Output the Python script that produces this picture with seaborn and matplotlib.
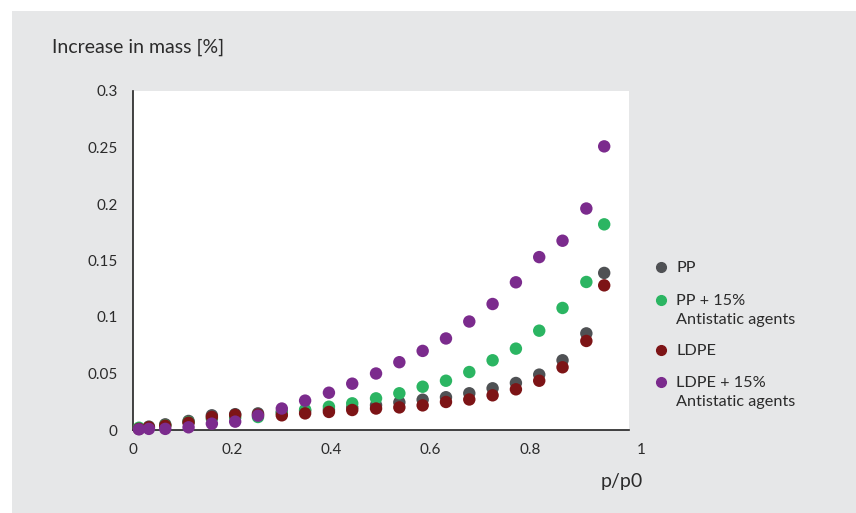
import matplotlib
matplotlib.use("Agg")
import matplotlib.pyplot as plt
import matplotlib.patches as mpatches
import matplotlib.transforms as mtransforms
from matplotlib.lines import Line2D
import numpy as np
import pandas as pd
import seaborn as sns

# Relative pressure p/p0 at which the samples were weighed
p_rel = [0.012, 0.032, 0.065, 0.112, 0.159, 0.206, 0.252, 0.300, 0.347, 0.395, 0.442,
         0.490, 0.537, 0.584, 0.631, 0.678, 0.725, 0.772, 0.819, 0.866, 0.914, 0.950]

# Increase in mass for each material
pp = [0.001, 0.003, 0.005, 0.008, 0.013, 0.014, 0.0147, 0.016, 0.017, 0.018, 0.020,
      0.022, 0.0245, 0.0268, 0.029, 0.0325, 0.0369, 0.0416, 0.049, 0.0617, 0.0855, 0.139]
pp_anti = [0.002, 0.002, 0.004, 0.007, 0.010, 0.011, 0.0115, 0.015, 0.018, 0.0206, 0.0236,
           0.028, 0.0325, 0.0383, 0.0436, 0.0513, 0.0617, 0.072, 0.0879, 0.108, 0.131, 0.182]
ldpe = [0.001, 0.0024, 0.0038, 0.0065, 0.0115, 0.0133, 0.0135, 0.013, 0.0147, 0.016, 0.0177,
        0.019, 0.020, 0.0218, 0.0248, 0.027, 0.0307, 0.036, 0.0436, 0.0555, 0.0788, 0.128]
ldpe_anti = [0.0006, 0.001, 0.001, 0.0024, 0.0056, 0.0074, 0.0127, 0.019, 0.026, 0.033, 0.041,
             0.050, 0.060, 0.070, 0.081, 0.096, 0.1115, 0.1307, 0.153, 0.1675, 0.196, 0.251]

series_names = ["PP", "PP + 15%\nAntistatic agents", "LDPE", "LDPE + 15%\nAntistatic agents"]
series_values = [pp, pp_anti, ldpe, ldpe_anti]
palette = ["#4f5154", "#2bb562", "#7d1416", "#7b2b8d"]

x_ticks = [0, 0.2, 0.4, 0.6, 0.8, 1]
x_tick_labels = ["0", "0.2", "0.4", "0.6", "0.8", "1"]
y_ticks = [0, 0.05, 0.1, 0.15, 0.2, 0.25, 0.3]
y_tick_labels = ["0", "0.05", "0.1", "0.15", "0.2", "0.25", "0.3"]

df = pd.concat(
    [pd.DataFrame({"p": p_rel, "mass": vals, "material": name})
     for name, vals in zip(series_names, series_values)],
    ignore_index=True,
)

sns.set_theme(style="white")
plt.rcParams["font.family"] = ["Lato", "DejaVu Sans"]
text_color = "#2b2b2b"
panel_color = "#e6e7e8"

W, H = 856, 513
fig = plt.figure(figsize=(W / 100, H / 100), dpi=100)
fig.patch.set_facecolor("white")
# grey panel behind the chart
fig.add_artist(mpatches.Rectangle((12 / W, 0), 1 - 12 / W, 1 - 11 / H,
                                  transform=fig.transFigure, facecolor=panel_color,
                                  edgecolor="none", zorder=-10))

ax = fig.add_axes([133 / W, 1 - 430 / H, (629 - 133) / W, (430 - 91) / H])
ax.set_facecolor("white")

sns.scatterplot(data=df, x="p", y="mass", hue="material", hue_order=series_names,
                palette=palette, s=80, edgecolor="none", linewidth=0, ax=ax,
                clip_on=False, zorder=3, legend=False)

ax.set_xlim(0, 1)
ax.set_ylim(0, 0.3)
ax.set_xticks(x_ticks)
ax.set_xticklabels(x_tick_labels)
ax.set_yticks(y_ticks)
ax.set_yticklabels(y_tick_labels)
ax.set_xlabel("")
ax.set_ylabel("")

for side in ("top", "right"):
    ax.spines[side].set_visible(False)
for side in ("left", "bottom"):
    ax.spines[side].set_color("#222222")
    ax.spines[side].set_linewidth(1.2)

ax.tick_params(axis="both", which="major", direction="out", colors="#777777",
               labelcolor=text_color, labelsize=11, width=0.8)
ax.tick_params(axis="x", length=5, pad=4)
ax.tick_params(axis="y", length=4, pad=7)

# the last x label sits a little to the right of its tick
last = ax.get_xticklabels()[-1]
last.set_transform(last.get_transform() +
                   mtransforms.ScaledTranslation(12 / 100, 0, fig.dpi_scale_trans))

fig.text(52 / W, 1 - 47 / H, "Increase in mass [%]", fontsize=14, color=text_color,
         ha="left", va="center")
fig.text(643 / W, 1 - 482 / H, "p/p0", fontsize=14, color=text_color,
         ha="right", va="center")

# legend: marker aligned with the first line of each label
legend_rows = [267, 300, 350, 382]
for name, color, row in zip(series_names, palette, legend_rows):
    fig.add_artist(Line2D([661 / W], [1 - row / H], marker="o", markersize=7,
                          color=color, linestyle="none", transform=fig.transFigure))
    fig.text(676 / W, 1 - (row - 6) / H, name, fontsize=11.7, color=text_color,
             ha="left", va="top", linespacing=1.45)

fig.savefig("out.png", dpi=100, facecolor=fig.get_facecolor())
